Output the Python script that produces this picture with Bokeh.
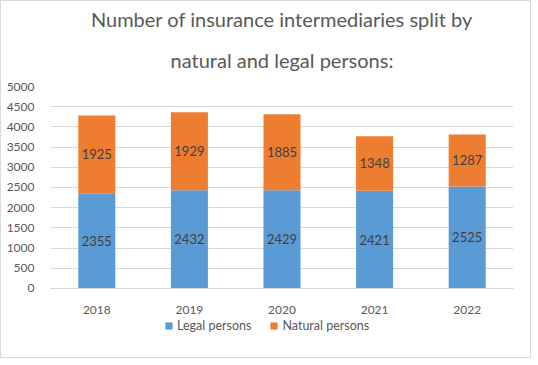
from bokeh.plotting import figure
from bokeh.models import ColumnDataSource, Legend, LegendItem, Title, FixedTicker, LabelSet
from bokeh.core.properties import value
from bokeh.embed import file_html
from bokeh.resources import INLINE

years = ["2018", "2019", "2020", "2021", "2022"]
legal = [2355, 2432, 2429, 2421, 2525]
natural = [1925, 1929, 1885, 1348, 1287]
y_ticks = [0, 500, 1000, 1500, 2000, 2500, 3000, 3500, 4000, 4500, 5000]
title_lines = ["Number of insurance intermediaries split by", "natural and legal persons:"]

FONT = "Lato"
TXT = "#595959"

src = ColumnDataSource(dict(
    x=years, legal=legal, natural=natural,
    legal_mid=[a / 2 for a in legal],
    natural_mid=[a + b / 2 for a, b in zip(legal, natural)],
    legal_s=[str(v) for v in legal], natural_s=[str(v) for v in natural],
))

p = figure(x_range=years, y_range=(-1114, 5000), frame_width=463, frame_height=247,
           output_backend="svg", toolbar_location=None,
           min_border_left=49, min_border_right=17, min_border_bottom=24, min_border_top=85)
p.styles = {"border": "1px solid #d9d9d9"}
p.outline_line_color = None

r = p.vbar_stack(["legal", "natural"], x="x", width=0.4, source=src,
                 color=["#5b9bd5", "#ed7d31"], line_color=None)

for col, lab in (("legal_mid", "legal_s"), ("natural_mid", "natural_s")):
    ls = LabelSet(x="x", y=col, text=lab, source=src, text_align="center",
                  text_baseline="middle", text_font=value(FONT), text_font_size="13px",
                  text_color="#404040")
    p.add_layout(ls)

tick = FixedTicker(ticks=y_ticks)
p.yaxis.ticker = tick
p.ygrid.ticker = tick
p.yaxis.axis_line_color = None
p.yaxis.major_tick_line_color = None
p.yaxis.minor_tick_line_color = None
p.yaxis.major_label_text_font = FONT
p.yaxis.major_label_text_font_size = "12px"
p.yaxis.major_label_text_color = TXT
p.yaxis.major_label_standoff = 10

p.xaxis.fixed_location = 0
p.xaxis.axis_line_color = "#d9d9d9"
p.xaxis.major_tick_line_color = None
p.xaxis.minor_tick_line_color = None
p.xaxis.major_label_text_font = FONT
p.xaxis.major_label_text_font_size = "12px"
p.xaxis.major_label_text_color = TXT
p.xaxis.major_label_standoff = 12

p.xgrid.grid_line_color = None
p.ygrid.grid_line_color = "#d9d9d9"
p.x_range.range_padding = 0.0

legend = Legend(items=[LegendItem(label="Legal persons", renderers=[r[0]]),
                       LegendItem(label="Natural persons", renderers=[r[1]])],
                orientation="horizontal", location=(114, 0),
                label_text_font=FONT, label_text_font_size="12.5px",
                label_text_color=TXT, glyph_width=9, glyph_height=9,
                label_height=14, spacing=18, label_standoff=4, border_line_color=None,
                background_fill_alpha=0, margin=0, padding=2)
p.add_layout(legend)

t2 = Title(text=title_lines[1], align="center", text_font=FONT,
           text_font_size="20px", text_color=TXT, text_font_style="normal",
           standoff=30)
t1 = Title(text=title_lines[0], align="center", text_font=FONT,
           text_font_size="20px", text_color=TXT, text_font_style="normal",
           standoff=0)
p.add_layout(t2, "above")
p.add_layout(t1, "above")

open("out.html", "w").write(file_html(p, INLINE))
